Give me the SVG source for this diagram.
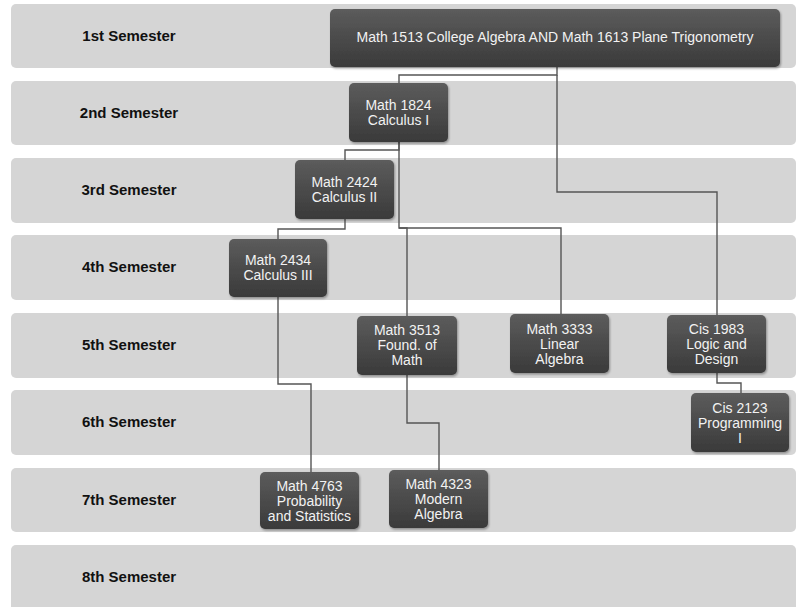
<svg xmlns="http://www.w3.org/2000/svg" width="798" height="607" viewBox="0 0 798 607">
  <defs>
    <linearGradient id="nodeGrad" x1="0" y1="0" x2="0" y2="1">
      <stop offset="0" stop-color="#5c5c5c"/>
      <stop offset="1" stop-color="#3a3a3a"/>
    </linearGradient>
    <filter id="shadow" x="-10%" y="-10%" width="125%" height="130%">
      <feDropShadow dx="1" dy="1.5" stdDeviation="1.2" flood-color="#000" flood-opacity="0.35"/>
    </filter>
  </defs>
  <style>
    .band { fill: #d5d5d5; }
    .sem { font-family: "Liberation Sans", Arial, sans-serif; font-size: 15px; font-weight: bold; fill: #111; text-anchor: middle; }
    .node rect { fill: url(#nodeGrad); filter: url(#shadow); }
    .node text { font-family: "Liberation Sans", Arial, sans-serif; font-size: 14px; fill: #f2f2f2; text-anchor: middle; }
    .conn path { fill: none; stroke: #555; stroke-width: 1.4; }
  </style>
  <rect width="798" height="607" fill="#ffffff"/>

  <g id="bands">
    <rect class="band" x="11" y="4" width="785" height="64" rx="5"/>
    <rect class="band" x="11" y="81" width="785" height="64" rx="5"/>
    <rect class="band" x="11" y="158" width="785" height="65" rx="5"/>
    <rect class="band" x="11" y="235" width="785" height="65" rx="5"/>
    <rect class="band" x="11" y="313" width="785" height="65" rx="5"/>
    <rect class="band" x="11" y="390" width="785" height="65" rx="5"/>
    <rect class="band" x="11" y="468" width="785" height="64" rx="5"/>
    <rect class="band" x="11" y="545" width="785" height="66" rx="5"/>
    <text class="sem" x="129" y="41">1st Semester</text>
    <text class="sem" x="129" y="118">2nd Semester</text>
    <text class="sem" x="129" y="195">3rd Semester</text>
    <text class="sem" x="129" y="272">4th Semester</text>
    <text class="sem" x="129" y="350">5th Semester</text>
    <text class="sem" x="129" y="427">6th Semester</text>
    <text class="sem" x="129" y="505">7th Semester</text>
    <text class="sem" x="129" y="582">8th Semester</text>
  </g>

  <g id="connectors" class="conn">
    <path d="M557,67 V75 H399 V83"/>
    <path d="M557,75 V192 H717 V315"/>
    <path d="M399,142 V150 H345 V160"/>
    <path d="M399,142 V228 H561 V314"/>
    <path d="M399,228 H407 V316"/>
    <path d="M345,219 V229 H278 V239"/>
    <path d="M278,297 V384 H311 V472"/>
    <path d="M407,375 V423 H439 V470"/>
    <path d="M717,373 V383 H741 V393"/>
  </g>

  <g id="n1" class="node">
    <rect x="330" y="9" width="450" height="58" rx="5"/>
    <text x="555" y="41.5">Math 1513 College Algebra AND Math 1613 Plane Trigonometry</text>
  </g>
  <g id="n2" class="node">
    <rect x="349" y="83" width="99" height="59" rx="5"/>
    <text x="398.5" y="110">Math 1824</text>
    <text x="398.5" y="125">Calculus I</text>
  </g>
  <g id="n3" class="node">
    <rect x="295" y="160" width="99" height="59" rx="5"/>
    <text x="344.5" y="187">Math 2424</text>
    <text x="344.5" y="202">Calculus II</text>
  </g>
  <g id="n4" class="node">
    <rect x="229" y="239" width="98" height="58" rx="5"/>
    <text x="278" y="265">Math 2434</text>
    <text x="278" y="280">Calculus III</text>
  </g>
  <g id="n5" class="node">
    <rect x="357" y="316" width="100" height="59" rx="5"/>
    <text x="407" y="335">Math 3513</text>
    <text x="407" y="350">Found. of</text>
    <text x="407" y="365">Math</text>
  </g>
  <g id="n6" class="node">
    <rect x="510" y="314" width="99" height="59" rx="5"/>
    <text x="559.5" y="333.5">Math 3333</text>
    <text x="559.5" y="348.5">Linear</text>
    <text x="559.5" y="363.5">Algebra</text>
  </g>
  <g id="n7" class="node">
    <rect x="667" y="315" width="99" height="58" rx="5"/>
    <text x="716.5" y="334">Cis 1983</text>
    <text x="716.5" y="349">Logic and</text>
    <text x="716.5" y="364">Design</text>
  </g>
  <g id="n8" class="node">
    <rect x="691" y="393" width="98" height="59" rx="5"/>
    <text x="740" y="412.5">Cis 2123</text>
    <text x="740" y="427.5">Programming</text>
    <text x="740" y="442.5">I</text>
  </g>
  <g id="n9" class="node">
    <rect x="260" y="472" width="99" height="57" rx="5"/>
    <text x="309.5" y="490.5">Math 4763</text>
    <text x="309.5" y="505.5">Probability</text>
    <text x="309.5" y="520.5">and Statistics</text>
  </g>
  <g id="n10" class="node">
    <rect x="389" y="470" width="99" height="58" rx="5"/>
    <text x="438.5" y="489">Math 4323</text>
    <text x="438.5" y="504">Modern</text>
    <text x="438.5" y="519">Algebra</text>
  </g>
</svg>
